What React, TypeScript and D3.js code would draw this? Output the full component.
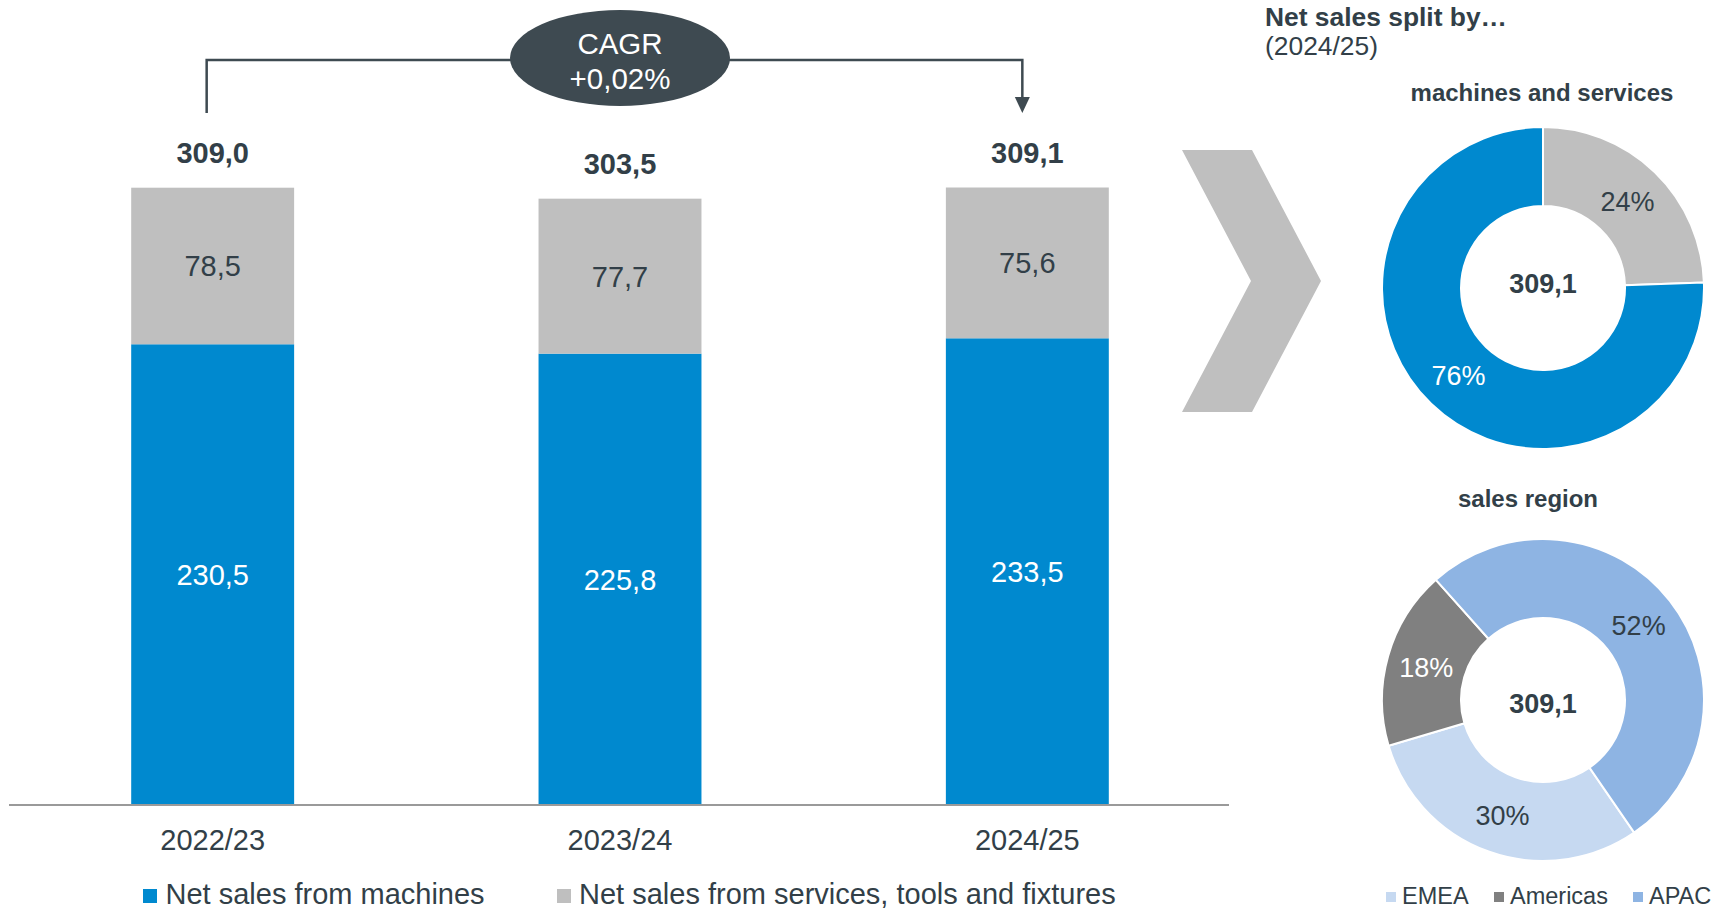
import React from 'react';
import * as d3 from 'd3';

const years = ['2022/23', '2023/24', '2024/25'];
const machines = [230.5, 225.8, 233.5];
const services = [78.5, 77.7, 75.6];
const totals = [309.0, 303.5, 309.1];
const barLegend = ['Net sales from machines', 'Net sales from services, tools and fixtures'];
const cagrLines = ['CAGR', '+0,02%'];

const splitNames = ['services', 'machines'];
const splitValues = [75.6, 233.5];
const splitPct = [24, 76];
const regionNames = ['EMEA', 'Americas', 'APAC'];
const regionValues = [30, 18, 52];
const donutTotal = 309.1;

const BLUE = '#0089CF';
const GRAY = '#BFBFBF';
const DARK = '#323F48';
const SLATE = '#3E4A51';
const FONT = '"Liberation Sans", Arial, sans-serif';

const fmt = (v: number) => d3.format('.1f')(v).replace('.', ',');

export default function App() {
  const W = 1730, H = 909;
  const x = d3.scaleBand<string>().domain(years).range([9, 1231]).paddingInner(0.6).paddingOuter(0.3);
  const y = d3.scaleLinear().domain([0, 310]).range([804, 804 - 310 * 1.9945]);
  const bw = x.bandwidth();

  const pie1 = d3.pie<number>().sort(null).startAngle(0).endAngle(2 * Math.PI)(splitValues);
  const startDeg = 145.5;
  const pie2 = d3.pie<number>().sort(null)
    .startAngle((startDeg * Math.PI) / 180)
    .endAngle(((startDeg + 360) * Math.PI) / 180)(regionValues);
  const arc = d3.arc<d3.PieArcDatum<number>>().innerRadius(82).outerRadius(161);
  const split1Colors = [GRAY, BLUE];
  const split1Text = [DARK, '#FFFFFF'];
  const regionColors = ['#C6D9F1', '#808080', '#8EB4E3'];
  const regionText = [DARK, '#FFFFFF', DARK];

  const c1 = { x: 1543, y: 288 };
  const c2 = { x: 1543, y: 700 };

  const lx = (x(years[0]) as number) + bw / 2 - 6;
  const rx = (x(years[2]) as number) + bw / 2 - 5;

  return (
    <svg width={W} height={H} style={{ position: 'absolute', left: 0, top: 0, fontFamily: FONT }}>
      <rect width={W} height={H} fill="#fff" />
      {/* CAGR bracket */}
      <path d={`M${lx},113 V60 H${rx} V98`} fill="none" stroke={SLATE} strokeWidth={2.5} />
      <polygon points={`${rx - 7.5},97 ${rx + 7.5},97 ${rx},113`} fill={SLATE} />
      <ellipse cx={620} cy={58} rx={110} ry={48} fill={SLATE} />
      <text x={620} y={54} textAnchor="middle" fontSize={29.5} fill="#fff">{cagrLines[0]}</text>
      <text x={620} y={89} textAnchor="middle" fontSize={29.5} fill="#fff">{cagrLines[1]}</text>

      {/* bars */}
      {years.map((yr, i) => {
        const x0 = x(yr) as number;
        const cx = x0 + bw / 2;
        const mTop = y(machines[i]);
        const sTop = y(machines[i] + services[i]);
        return (
          <g key={yr}>
            <rect x={x0} y={mTop} width={bw} height={y(0) - mTop} fill={BLUE} />
            <rect x={x0} y={sTop} width={bw} height={mTop - sTop} fill={GRAY} />
            <text x={cx} y={(mTop + y(0)) / 2 + 11} textAnchor="middle" fontSize={29} fill="#fff">{fmt(machines[i])}</text>
            <text x={cx} y={(sTop + mTop) / 2 + 10.5} textAnchor="middle" fontSize={29} fill={DARK}>{fmt(services[i])}</text>
            <text x={cx} y={y(totals[i]) - 24.7} textAnchor="middle" fontSize={29} fontWeight="bold" fill={DARK}>{fmt(totals[i])}</text>
            <text x={cx} y={850} textAnchor="middle" fontSize={29} fill={DARK}>{yr}</text>
          </g>
        );
      })}
      <line x1={9} x2={1229} y1={805} y2={805} stroke="#9A9A9A" strokeWidth={2} />

      {/* bar legend */}
      <rect x={143} y={889} width={14} height={14} fill={BLUE} />
      <text x={165.5} y={904} fontSize={29} fill={DARK}>{barLegend[0]}</text>
      <rect x={557} y={889} width={14} height={14} fill={GRAY} />
      <text x={579} y={904} fontSize={29} fill={DARK}>{barLegend[1]}</text>

      {/* chevron */}
      <polygon points="1182,150 1252,150 1321,281 1252,412 1182,412 1251,281" fill={GRAY} />

      {/* right titles */}
      <text x={1265} y={26} fontSize={26.4} fontWeight="bold" fill={DARK}>Net sales split by…</text>
      <text x={1265} y={55} fontSize={26.4} fill={DARK}>(2024/25)</text>
      <text x={1542} y={101} textAnchor="middle" fontSize={24} fontWeight="bold" fill={DARK}>machines and services</text>
      <text x={1528} y={507} textAnchor="middle" fontSize={24} fontWeight="bold" fill={DARK}>sales region</text>

      {/* donut 1 */}
      <g transform={`translate(${c1.x},${c1.y})`}>
        {pie1.map((d, i) => (
          <path key={splitNames[i]} d={arc(d) as string} fill={split1Colors[i]} stroke="#fff" strokeWidth={2} />
        ))}
        {pie1.map((d, i) => {
          const [px, py] = arc.centroid(d);
          return (
            <text key={'l' + i} x={px} y={py + 10} textAnchor="middle" fontSize={27} fill={split1Text[i]}>
              {splitPct[i]}%
            </text>
          );
        })}
        <text x={0} y={5} textAnchor="middle" fontSize={27} fontWeight="bold" fill={DARK}>{fmt(donutTotal)}</text>
      </g>

      {/* donut 2 */}
      <g transform={`translate(${c2.x},${c2.y})`}>
        {pie2.map((d, i) => (
          <path key={regionNames[i]} d={arc(d) as string} fill={regionColors[i]} stroke="#fff" strokeWidth={2} />
        ))}
        {pie2.map((d, i) => {
          const [px, py] = arc.centroid(d);
          return (
            <text key={'l' + i} x={px} y={py + 10} textAnchor="middle" fontSize={27} fill={regionText[i]}>
              {regionValues[i]}%
            </text>
          );
        })}
        <text x={0} y={13} textAnchor="middle" fontSize={27} fontWeight="bold" fill={DARK}>{fmt(donutTotal)}</text>
      </g>

      {/* region legend */}
      {[1386, 1494, 1633].map((lxp, i) => (
        <g key={regionNames[i]}>
          <rect x={lxp} y={892} width={10} height={10} fill={regionColors[i]} />
          <text x={lxp + 16} y={904} fontSize={23.5} fill={DARK}>{regionNames[i]}</text>
        </g>
      ))}
    </svg>
  );
}
